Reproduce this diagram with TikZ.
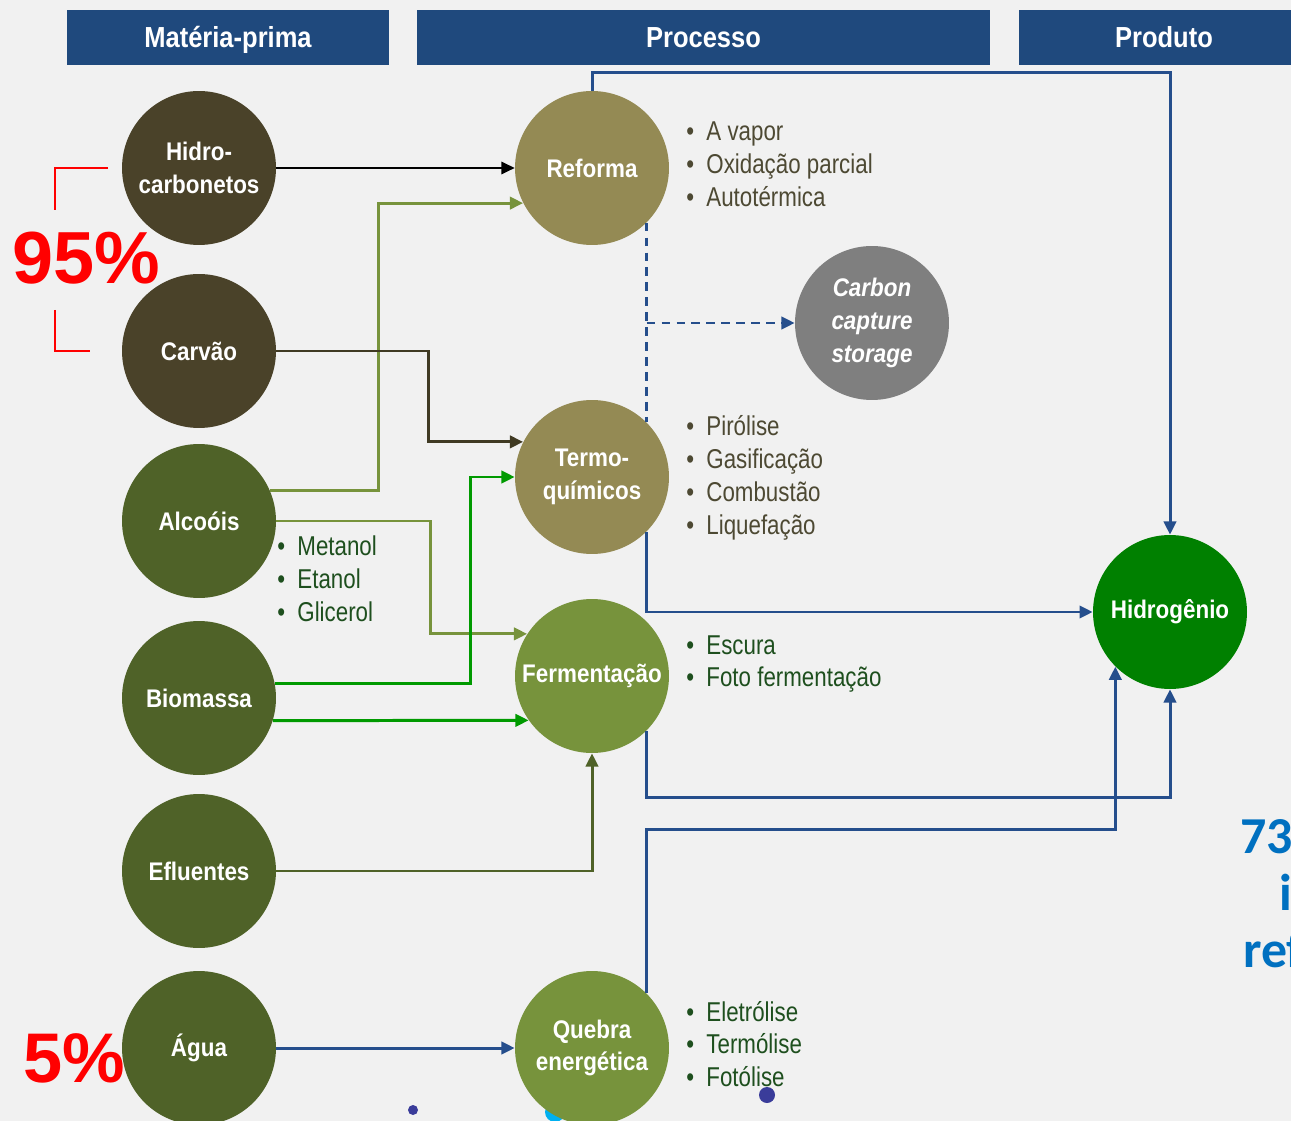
\documentclass[tikz,border=0pt]{standalone}
\usepackage{fontspec}
\setmainfont{Liberation Sans}
\newfontfamily\narrowfont[FakeStretch=0.82]{Liberation Sans}
\newfontfamily\circfont[FakeStretch=0.88]{Liberation Sans}
\newfontfamily\calfont{Carlito}
\usetikzlibrary{arrows.meta,calc,positioning}

\definecolor{bgcol}{HTML}{F1F1F1}
\definecolor{headblue}{HTML}{1F497D}
\definecolor{darkbrown}{HTML}{4A4229}
\definecolor{darkgreen}{HTML}{4F6228}
\definecolor{khaki}{HTML}{948A54}
\definecolor{olive}{HTML}{77933C}
\definecolor{ccsgray}{HTML}{7F7F7F}
\definecolor{hgreen}{HTML}{008000}
\definecolor{lineblue}{HTML}{254E8C}
\definecolor{brightgreen}{HTML}{009A00}
\definecolor{brownline}{HTML}{403A23}
\definecolor{listbrown}{HTML}{4D4933}
\definecolor{listgreen}{HTML}{1E4F1E}
\definecolor{pctblue}{HTML}{0070C0}
\definecolor{dotblue}{HTML}{3A3C9A}
\definecolor{dotcyan}{HTML}{00B0F0}

\newcommand{\bul}{\textbullet\hspace{0.45em}}

\begin{document}
\begin{tikzpicture}[x=0.02cm,y=-0.02cm,>={Triangle[length=7.5pt,width=7pt]},
  header/.style={fill=headblue,text=white,minimum height=1.1cm,inner sep=0,
    text height=11.8pt,text depth=0pt,
    font=\circfont\bfseries\fontsize{16.5}{19}\selectfont},
  circ/.style={circle,minimum size=3.08cm,inner sep=0,text=white,align=center,
    font=\circfont\bfseries\fontsize{14.5}{18.7}\selectfont},
  lista/.style={anchor=west,align=left,inner sep=0,
    font=\narrowfont\fontsize{15.5}{18.7}\selectfont},
  conn/.style={line width=1.7pt,->},
  pct/.style={text=red,inner sep=0,font=\bfseries}]

  \clip (0,0) rectangle (1291,1121);
  \fill[bgcol] (0,0) rectangle (1291,1121);

  % cabecalho
  \node[header,minimum width=6.44cm] (hmat) at (228,37.5) {Matéria-prima};
  \node[header,minimum width=11.46cm] (hproc) at (703.5,37.5) {Processo};
  \node[header,minimum width=5.8cm] (hprod) at (1164,37.5) {Produto};

  \fill[dotcyan] (555,1112) circle (0.2cm);

  % materia-prima
  \node[circ,fill=darkbrown] (hc) at (199,168) {Hidro-\\carbonetos};
  \node[circ,fill=darkbrown] (carv) at (199,351) {Carvão};
  \node[circ,fill=darkgreen] (alc) at (199,521) {Alcoóis};
  \node[circ,fill=darkgreen] (bio) at (199,698) {Biomassa};
  \node[circ,fill=darkgreen] (efl) at (199,871) {Efluentes};
  \node[circ,fill=darkgreen] (agua) at (199,1048) {Água};

  % processos
  \node[circ,fill=khaki] (ref) at (592,168) {Reforma};
  \node[circ,fill=khaki] (termo) at (592,477) {Termo-\\químicos};
  \node[circ,fill=olive] (ferm) at (592,676) {Fermentação};
  \node[circ,fill=olive] (queb) at (592,1048) {Quebra\\energética};
  \node[circ,fill=ccsgray,font=\circfont\bfseries\itshape\fontsize{14.5}{18.7}\selectfont]
    (ccs) at (872,323) {Carbon\\capture\\storage};
  \node[circ,fill=hgreen] (hid) at (1170,612) {Hidrogênio};

  % listas
  \node[lista,text=listbrown] (lref) at (686,164)
    {\bul A vapor\\\bul Oxidação parcial\\\bul Autotérmica};
  \node[lista,text=listbrown] (ltermo) at (686,478)
    {\bul Pirólise\\\bul Gasificação\\\bul Combustão\\\bul Liquefação};
  \node[lista,text=listgreen] (lalc) at (277,579)
    {\bul Metanol\\\bul Etanol\\\bul Glicerol};
  \node[lista,text=listgreen] (lferm) at (686,664)
    {\bul Escura\\\bul Foto fermentação};
  \node[lista,text=listgreen] (lqueb) at (686,1044)
    {\bul Eletrólise\\\bul Termólise\\\bul Fotólise};

  % ligacoes
  \draw[conn,line width=1.2pt,black] (hc.east) -- (ref.west);
  \draw[conn,olive] (alc.23) -- ++(108,0) |- (ref.207);
  \draw[conn,brownline] (carv.east) -- ++(152,0) |- (termo.153);
  \draw[conn,olive] (alc.east) -- ++(154,0) |- (ferm.147);
  \draw[conn,brightgreen] (bio.11) -- ++(196,0) |- (termo.west);
  \draw[conn,brightgreen] (bio.-17) -- (ferm.215);
  \draw[conn,darkgreen] (efl.east) -| (ferm.south);
  \draw[conn,lineblue] (agua.east) -- (queb.west);

  \draw[conn,lineblue] (ref.north) -- ++(0,-18) -| (hid.north);
  \coordinate (split) at (ref.-45 |- ccs.west);
  \draw[lineblue,line width=1.7pt,dash pattern=on 5pt off 3.5pt] (ref.-45) -- (termo.45);
  \draw[conn,lineblue,dash pattern=on 5pt off 3.5pt] (split) -- (ccs.west);
  \draw[conn,lineblue] (termo.-45) |- (hid.west);
  \draw[conn,lineblue] (ferm.-45) -- ++(0,67) -| (hid.south);
  \draw[conn,lineblue] (queb.45) -- ++(0,-164) -| (hid.225);

  % percentuais
  \draw[red,line width=1.2pt] (108,168) -- (55,168) -- (55,210);
  \draw[red,line width=1.2pt] (55,310) -- (55,351) -- (90,351);
  \node[pct,font=\bfseries\fontsize{42}{46}\selectfont] (p95) at (86,258) {95\%};
  \node[pct,font=\bfseries\fontsize{40}{44}\selectfont] (p5) at (74,1058) {5\%};

  \node[anchor=base west,inner sep=0,text=pctblue,font=\calfont\bfseries\fontsize{29.5}{32}\selectfont]
    (t73) at (1240,853) {73\%};
  \node[anchor=base west,inner sep=0,text=pctblue,font=\calfont\bfseries\fontsize{29.5}{32}\selectfont]
    (ti) at (1279,910) {i};
  \node[anchor=base west,inner sep=0,text=pctblue,font=\calfont\bfseries\fontsize{29.5}{32}\selectfont]
    (tref) at (1243,967) {ref};

  \fill[dotblue] (413,1110) circle (0.1cm);
  \fill[dotblue] (767,1095) circle (0.16cm);
\end{tikzpicture}
\end{document}
